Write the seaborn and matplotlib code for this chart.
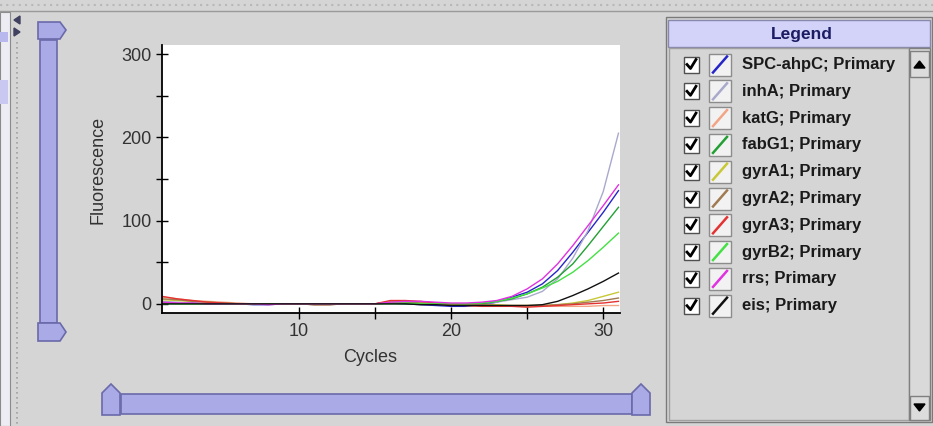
import pandas as pd
import matplotlib.pyplot as plt
import seaborn as sns
from matplotlib.patches import Rectangle, Polygon

# qPCR amplification curves
cycles = list(range(1, 32))
targets = ["SPC-ahpC", "inhA", "katG", "fabG1", "gyrA1",
           "gyrA2", "gyrA3", "gyrB2", "rrs", "eis"]
spc_ahpc = [2, 1, 1, 0, 0, 0, -1, -1, 0, 0, 0, 0, 0, 0, 0, 1, 0, -1, -2, -3, -3, -1, 2, 8, 14, 24, 40, 62, 86, 110, 136]
inha = [3, 2, 1, 1, 0, 0, 0, 0, 0, 0, 0, 0, 0, 0, 0, 2, 2, 1, 0, -1, -1, 0, 2, 5, 8, 15, 30, 55, 88, 135, 205]
katg = [8, 6, 4, 3, 2, 1, 0, 0, 0, 0, 0, 0, 0, 0, 0, 3, 3, 2, 1, 0, -2, -2, -2, -3, -3, -3, -3, -3, -3, -2, -2]
fabg1 = [0, 0, 0, 0, 0, 0, 0, 0, 0, 0, -1, -1, 0, 0, 0, 0, 0, 0, 0, -1, -1, 0, 3, 6, 12, 20, 32, 48, 70, 93, 116]
gyra1 = [5, 4, 3, 2, 1, 0, 0, 0, 0, 0, 0, 0, 0, 0, 0, 2, 3, 2, 1, 0, -1, -1, -1, -2, -2, -2, -1, 1, 4, 9, 14]
gyra2 = [6, 5, 3, 2, 1, 0, 0, 0, 0, 0, 0, 0, 0, 0, 0, 2, 2, 1, 0, -1, -1, -1, -2, -2, -2, -2, -1, 0, 2, 4, 7]
gyra3 = [9, 6, 4, 2, 1, 0, 0, 0, 0, 0, -1, -1, 0, 0, 0, 4, 4, 3, 1, -1, -2, -3, -3, -3, -4, -3, -2, -1, 0, 1, 3]
gyrb2 = [1, 0, 0, 0, 0, 0, 0, 0, 0, 0, 0, 0, 0, 0, 0, 1, 1, 0, 0, 0, 0, 1, 3, 7, 12, 19, 27, 38, 52, 68, 85]
rrs = [2, 1, 1, 0, 0, 0, 0, -1, 0, 0, 0, 0, 0, 0, 0, 2, 3, 3, 2, 1, 1, 2, 4, 9, 18, 30, 48, 70, 94, 118, 143]
eis = [0, 0, 0, 0, 0, 0, 0, 0, 0, 0, 0, 0, 0, 0, 0, 0, 0, -1, -1, -2, -2, -2, -2, -2, -2, -1, 3, 10, 18, 27, 37]
series = [spc_ahpc, inha, katg, fabg1, gyra1, gyra2, gyra3, gyrb2, rrs, eis]

colors = ["#2626c8", "#a9a9cc", "#f2a486", "#22a034", "#c8c836",
          "#a07a52", "#e43232", "#44e044", "#e032e0", "#111111"]
palette = dict(zip(targets, colors))

df = pd.DataFrame({
    "Cycle": cycles * len(targets),
    "Fluorescence": sum(series, []),
    "Target": [t for t in targets for _ in cycles],
})

plt.rcParams['font.family'] = ['Liberation Sans', 'DejaVu Sans']

W, H = 933, 426
bg = "#d5d5d5"
slider_fill = "#aaaae6"
slider_edge = "#6a6aaa"

fig = plt.figure(figsize=(W / 100, H / 100), dpi=100, facecolor=bg)

# full-figure overlay in pixel coordinates for the UI chrome
ui = fig.add_axes([0, 0, 1, 1], zorder=0)
ui.set_xlim(0, W)
ui.set_ylim(H, 0)
ui.axis("off")

# chart
ax = fig.add_axes([162 / W, 1 - 313 / H, 458 / W, 268 / H], zorder=1)
sns.lineplot(data=df, x="Cycle", y="Fluorescence", hue="Target",
             palette=palette, legend=False, linewidth=1.0, ax=ax)
ax.set_facecolor("white")
ax.set_xlim(1, 31.1)
ax.set_ylim(-11, 311)
ax.set_xticks([10, 20, 30])
ax.set_xticks([15, 25], minor=True)
ax.set_yticks([0, 100, 200, 300])
ax.set_yticks([50, 150, 250], minor=True)
ax.tick_params(which="both", direction="inout", length=8, width=1,
               color="black", labelsize=13, labelcolor="#333333")
ax.set_xlabel("")
ax.set_ylabel("")
for side in ["top", "right"]:
    ax.spines[side].set_visible(False)
for side in ["left", "bottom"]:
    ax.spines[side].set_color("black")
    ax.spines[side].set_linewidth(1.3)

ui.text(370, 358, "Cycles", fontsize=13, color="#333333", ha="center", va="center")
ui.text(98, 170, "Fluorescence", fontsize=13, color="#333333",
        ha="center", va="center", rotation=90)

# top border and left strip
ui.plot([0, W], [5, 5], color="#b8b8b8", lw=1.5, ls=(0, (1, 2)))
ui.plot([0, W], [11, 11], color="#9a9a9a", lw=1)
ui.add_patch(Rectangle((0, 12), 10, H - 12, facecolor="#ececf2", edgecolor="#8a8a8a", lw=0.8))
ui.add_patch(Rectangle((0, 32), 8, 10, facecolor="#b8b8ee", edgecolor="none"))
ui.add_patch(Rectangle((0, 80), 8, 24, facecolor="#c8c8f0", edgecolor="none"))
ui.plot([17, 17], [42, H], color="#a0a0a0", lw=1.2, ls=(0, (1, 2)))
ui.add_patch(Polygon([(20, 16), (14, 20), (20, 24)], closed=True, color="#404060"))
ui.add_patch(Polygon([(14, 28), (20, 32), (14, 36)], closed=True, color="#404060"))

# vertical slider
ui.add_patch(Rectangle((40, 40), 17, 283, facecolor=slider_fill, edgecolor=slider_edge, lw=1.2))
ui.add_patch(Polygon([(38, 22), (60, 22), (66, 30), (60, 39), (38, 39)],
                     closed=True, facecolor=slider_fill, edgecolor=slider_edge, lw=1.2))
ui.add_patch(Polygon([(38, 323), (60, 323), (66, 332), (60, 341), (38, 341)],
                     closed=True, facecolor=slider_fill, edgecolor=slider_edge, lw=1.2))

# horizontal slider
ui.add_patch(Rectangle((121, 394), 511, 20, facecolor=slider_fill, edgecolor=slider_edge, lw=1.2))
for x0 in [102, 632]:
    ui.add_patch(Polygon([(x0, 415), (x0, 393), (x0 + 9, 384), (x0 + 18, 393), (x0 + 18, 415)],
                         closed=True, facecolor=slider_fill, edgecolor=slider_edge, lw=1.2))

# legend panel
ui.add_patch(Rectangle((666, 17), W - 667, 405, facecolor=bg, edgecolor="#7a7a7a", lw=1))
ui.add_patch(Rectangle((668, 20), 262, 27, facecolor="#d3d3fa", edgecolor="#8888aa", lw=1))
ui.text(802, 34, "Legend", fontsize=12.5, fontweight="bold", color="#1c1c64",
        ha="center", va="center")
ui.add_patch(Rectangle((669, 48), 240, 372, facecolor=bg, edgecolor="#a0a0a0", lw=1))
ui.add_patch(Rectangle((909, 48), 21, 372, facecolor="#d9d9d9", edgecolor="#808080", lw=1))
ui.add_patch(Rectangle((910, 51), 19, 26, facecolor="#dcdcdc", edgecolor="#808080", lw=1))
ui.add_patch(Polygon([(914, 68), (919.5, 61), (925, 68)], closed=True, color="black"))
ui.add_patch(Rectangle((910, 396), 19, 24, facecolor="#dcdcdc", edgecolor="#808080", lw=1))
ui.add_patch(Polygon([(914, 404), (919.5, 411), (925, 404)], closed=True, color="black"))

for i, (name, col) in enumerate(zip(targets, colors)):
    yc = 64.5 + i * 26.8
    ui.add_patch(Rectangle((684, yc - 8), 15, 16, facecolor="white", edgecolor="#505050", lw=1))
    ui.plot([687, 690.5, 696], [yc, yc + 4, yc - 5], color="black", lw=2)
    ui.add_patch(Rectangle((709, yc - 11), 22, 22, facecolor="#f2f2f2", edgecolor="#8c8c8c", lw=1))
    ui.plot([713, 727], [yc + 8, yc - 8], color=col, lw=1.8)
    ui.text(742, yc, f"{name}; Primary", fontsize=12, fontweight="bold",
            color="#1a1a1a", ha="left", va="center")

fig.savefig("out.png", dpi=100, facecolor=bg)
